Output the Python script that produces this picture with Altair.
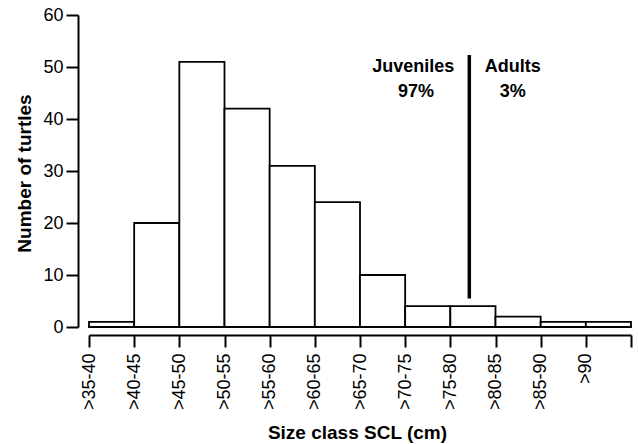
import altair as alt
import pandas as pd

# Data
bin_start = [35, 40, 45, 50, 55, 60, 65, 70, 75, 80, 85, 90]
bin_labels = [">35-40", ">40-45", ">45-50", ">50-55", ">55-60", ">60-65",
              ">65-70", ">70-75", ">75-80", ">80-85", ">85-90", ">90"]
counts = [1, 20, 51, 42, 31, 24, 10, 4, 4, 2, 1, 1]

divider_x = 77.1
divider_y = [5.5, 52.3]
group_text = ["Juveniles", "97%", "Adults", "3%"]
group_x = [70.9, 71.2, 81.9, 81.9]
group_y = [49.1, 44.3, 49.1, 44.3]

df = pd.DataFrame({"start": bin_start, "end": [b + 5 for b in bin_start],
                   "count": counts, "label": bin_labels})
ann = pd.DataFrame({"text": group_text, "x": group_x, "y": group_y})
div = pd.DataFrame({"x": [divider_x], "y": [divider_y[0]], "y2": [divider_y[1]]})

FONT = "Liberation Sans"
label_expr = " : ".join(
    [f"datum.value == {s} ? '{l}'" for s, l in zip(bin_start, bin_labels)]
) + " : ''"

xscale = alt.Scale(domain=[35, 95], nice=False, zero=False)
yscale = alt.Scale(domain=[0, 60], nice=False)

bars = alt.Chart(df).mark_bar(fill="white", stroke="black", strokeWidth=1.8).encode(
    x=alt.X("start:Q", scale=xscale,
            axis=alt.Axis(title="Size class SCL (cm)", values=bin_start + [95],
                          labelExpr=label_expr, labelAngle=270, labelFontSize=18,
                          labelFont=FONT, labelColor="black", labelPadding=6,
                          tickSize=12, tickWidth=2, tickColor="black",
                          domainWidth=2, domainColor="black", offset=8,
                          grid=False, titleFont=FONT, titleFontSize=19,
                          titleFontWeight="bold", titleColor="black",
                          titleX=268, titleY=103, titleBaseline="alphabetic",
                          titleAlign="center", labelOverlap=False, labelFlush=False)),
    x2="end:Q",
    y=alt.Y("count:Q", scale=yscale,
            axis=alt.Axis(title="Number of turtles", values=[0, 10, 20, 30, 40, 50, 60],
                          labelFontSize=18, labelFont=FONT, labelColor="black",
                          labelPadding=3, tickSize=12, tickWidth=2, tickColor="black",
                          domainWidth=2, domainColor="black", offset=11, grid=False,
                          titleFont=FONT, titleFontSize=19, titleFontWeight="bold",
                          titleColor="black", titleX=-48, titleY=158,
                          titleBaseline="alphabetic", titleAlign="center",
                          labelFlush=False)),
    y2=alt.datum(0),
)

rule = alt.Chart(div).mark_rule(color="black", strokeWidth=3.5).encode(
    x=alt.X("x:Q", scale=xscale), y=alt.Y("y:Q", scale=yscale), y2="y2:Q")

texts = alt.Chart(ann).mark_text(font=FONT, fontSize=18, fontWeight="bold",
                                 color="black", align="center",
                                 baseline="alphabetic").encode(
    x=alt.X("x:Q", scale=xscale), y=alt.Y("y:Q", scale=yscale), text="text:N")

chart = alt.layer(bars, rule, texts).properties(
    width=542, height=312,
    autosize=alt.AutoSizeParams(type="none"),
    padding={"left": 89, "top": 15, "right": 7, "bottom": 117},
    background="white",
).configure_view(stroke=None)

chart.save("out.html", embed_options={"renderer": "svg", "actions": False})
